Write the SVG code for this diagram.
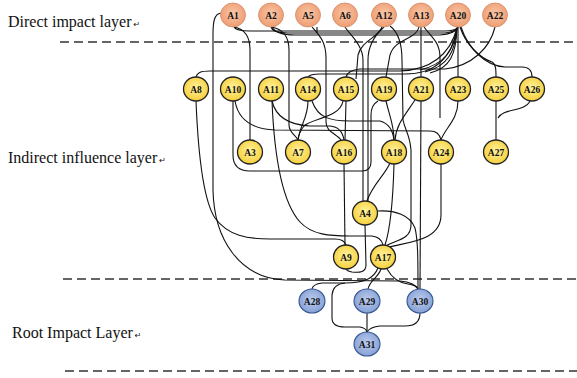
<svg xmlns="http://www.w3.org/2000/svg" width="577" height="378" viewBox="0 0 577 378">
<defs>
<radialGradient id="gO" cx="50%" cy="45%" r="55%"><stop offset="0" stop-color="#FAC7A8"/><stop offset="1" stop-color="#EE9D72"/></radialGradient>
<radialGradient id="gY" cx="50%" cy="45%" r="55%"><stop offset="0" stop-color="#FFF3A0"/><stop offset="1" stop-color="#F6CF3A"/></radialGradient>
<radialGradient id="gB" cx="50%" cy="45%" r="55%"><stop offset="0" stop-color="#BCCBEB"/><stop offset="1" stop-color="#86A1D6"/></radialGradient>
</defs>
<style>
.lbl{font-family:"Liberation Serif",serif;font-size:16px;fill:#111}
.arr{font-family:"DejaVu Sans",sans-serif;font-size:8px;fill:#111}
.dash{stroke:#333;stroke-width:1.6;stroke-dasharray:9 5;fill:none}
.e{fill:none;stroke:#111;stroke-width:1.1}
.o ellipse{fill:url(#gO);stroke:#D08A68;stroke-width:0.8}
.y ellipse{fill:url(#gY);stroke:#222;stroke-width:1.3}
.b ellipse{fill:url(#gB);stroke:#34548F;stroke-width:1.1}
.n text{font-family:"Liberation Serif",serif;font-weight:bold;font-size:9.5px;fill:#111;text-anchor:middle}
</style>
<rect width="577" height="378" fill="#fff"/>
<text class="lbl" x="8" y="27">Direct impact layer<tspan class="arr" dx="2">↵</tspan></text>
<text class="lbl" x="8" y="163">Indirect influence layer<tspan class="arr" dx="2">↵</tspan></text>
<text class="lbl" x="12" y="338">Root Impact Layer<tspan class="arr" dx="2">↵</tspan></text>
<line class="dash" x1="60" y1="42" x2="577" y2="42"/>
<line class="dash" x1="63" y1="279" x2="577" y2="279"/>
<line class="dash" x1="65" y1="371" x2="577" y2="371"/>
<g id="connectors">
<path class="e" d="M234,27 Q236,31 250,31 L445,31 Q455,31 458,27"/>
<path class="e" d="M271,27 Q273,33 288,33 L445,33 Q455,32 458,27"/>
<path class="e" d="M272,27 Q276,35 295,35 L440,35 Q455,34 458,27"/>
<path class="e" d="M317,27 L317,33"/>
<path class="e" d="M234,27 C245,29 250,36 250,50 L250,140"/>
<path class="e" d="M271,27 C283,29 289,36 289,50 L289,125 C289,133 296,135 298,140"/>
<path class="e" d="M221,13 C214,14 213,22 213,35 L213,190 C214,240 240,278 285,280 L400,281 C410,282 416,285 418,289"/>
<path class="e" d="M196,101 C198,150 203,200 215,218 C228,236 248,239 270,239 L335,239 Q344,239 346,245"/>
<path class="e" d="M272,101 C274,150 280,200 300,222 C312,235 330,236 350,236 L372,236 Q381,237 383,245"/>
<path class="e" d="M233,101 L233,155 Q233,171 250,171 L362,171 Q371,171 371,162 L371,115 Q371,105 378,101"/>
<path class="e" d="M235,101 C238,118 250,129 275,130 L430,131 C437,131 440,135 441,140"/>
<path class="e" d="M272,101 C276,118 290,125 310,126 L330,126 Q342,127 344,140"/>
<path class="e" d="M308,101 C308,118 300,125 298,140"/>
<path class="e" d="M343,101 C340,118 312,118 304,126 Q299,132 298,140"/>
<path class="e" d="M346,101 L345,140"/>
<path class="e" d="M312,101 C318,118 330,121 350,121 L380,121 Q392,124 394,140"/>
<path class="e" d="M386,101 C390,118 394,125 394,140"/>
<path class="e" d="M415,100 C405,115 396,125 395,140"/>
<path class="e" d="M458,101 C458,120 445,128 441,140"/>
<path class="e" d="M496,101 L496,140"/>
<path class="e" d="M530,101 C525,112 503,108 498,118"/>
<path class="e" d="M421,101 L420,289"/>
<path class="e" d="M345,27 C350,35 363,45 363,60 L363,201"/>
<path class="e" d="M384,27 C375,35 368,45 368,60 L368,201"/>
<path class="e" d="M390,26 C398,32 402,42 402,60 L403,120 C405,130 410,135 411,150 L411,225 C411,240 395,240 386,246"/>
<path class="e" d="M424,27 C432,38 440,42 440,58 L440,118"/>
<path class="e" d="M421,27 L421,77"/>
<path class="e" d="M382,27 C378,38 362,40 358,55 L356,79"/>
<path class="e" d="M419,27 C416,40 395,38 390,55 L386,77"/>
<path class="e" d="M312,27 C320,36 326,42 326,58 L326,122 C326,132 337,134 341,140"/>
<path class="e" d="M457,28 C450,55 430,70 400,71 L210,71 C200,71 197,73 196,77"/>
<path class="e" d="M457,28 C452,58 435,74 405,74 L320,74 Q310,74 308,77"/>
<path class="e" d="M457,28 C454,50 445,64 420,70"/>
<path class="e" d="M457,28 C455,52 448,66 425,72"/>
<path class="e" d="M457,28 C456,55 450,68 430,73"/>
<path class="e" d="M495,27 C490,48 472,66 445,69 L360,69 Q348,70 346,77"/>
<path class="e" d="M458,27 L458,77"/>
<path class="e" d="M460,27 C466,45 480,58 492,62 C496,64 496,70 496,77"/>
<path class="e" d="M461,27 C468,48 485,66 505,67 L522,67 C530,67 532,72 532,77"/>
<path class="e" d="M344,164 L345,245"/>
<path class="e" d="M394,164 C393,200 390,230 385,245"/>
<path class="e" d="M390,163 C385,175 372,185 367,201"/>
<path class="e" d="M441,164 L441,215 C441,240 410,242 389,247"/>
<path class="e" d="M365,225 L366,265 C366,272 360,273 352,272 Q347,271 346,269"/>
<path class="e" d="M378,211 C395,210 410,215 415,228 C418,240 418,260 418,289"/>
<path class="e" d="M378,268 C374,278 365,283 345,283 L322,283 Q313,284 312,289"/>
<path class="e" d="M381,269 C378,278 370,280 368,289"/>
<path class="e" d="M387,269 C392,278 400,283 408,284 Q416,285 418,289"/>
<path class="e" d="M345,283 Q333,284 332,295 L332,318 Q332,327 345,327 L360,327 Q366,328 367,332"/>
<path class="e" d="M367,313 L367,332"/>
<path class="e" d="M420,313 C420,322 414,326 405,326 L380,326 Q370,327 367,332"/>
</g>
<g id="A1" class="n o"><ellipse cx="233" cy="15" rx="12.5" ry="12"/><text x="233" y="18.5">A1</text></g>
<g id="A2" class="n o"><ellipse cx="271" cy="15" rx="12.5" ry="12"/><text x="271" y="18.5">A2</text></g>
<g id="A5" class="n o"><ellipse cx="308" cy="15" rx="12.5" ry="12"/><text x="308" y="18.5">A5</text></g>
<g id="A6" class="n o"><ellipse cx="345" cy="15" rx="12.5" ry="12"/><text x="345" y="18.5">A6</text></g>
<g id="A12" class="n o"><ellipse cx="384" cy="15" rx="12.5" ry="12"/><text x="384" y="18.5">A12</text></g>
<g id="A13" class="n o"><ellipse cx="421" cy="15" rx="12.5" ry="12"/><text x="421" y="18.5">A13</text></g>
<g id="A20" class="n o"><ellipse cx="458" cy="15" rx="12.5" ry="12"/><text x="458" y="18.5">A20</text></g>
<g id="A22" class="n o"><ellipse cx="495" cy="15" rx="12.5" ry="12"/><text x="495" y="18.5">A22</text></g>
<g id="A8" class="n y"><ellipse cx="196" cy="89" rx="12.5" ry="12"/><text x="196" y="92.5">A8</text></g>
<g id="A10" class="n y"><ellipse cx="233" cy="89" rx="12.5" ry="12"/><text x="233" y="92.5">A10</text></g>
<g id="A11" class="n y"><ellipse cx="271" cy="89" rx="12.5" ry="12"/><text x="271" y="92.5">A11</text></g>
<g id="A14" class="n y"><ellipse cx="308" cy="89" rx="12.5" ry="12"/><text x="308" y="92.5">A14</text></g>
<g id="A15" class="n y"><ellipse cx="346" cy="89" rx="12.5" ry="12"/><text x="346" y="92.5">A15</text></g>
<g id="A19" class="n y"><ellipse cx="384" cy="89" rx="12.5" ry="12"/><text x="384" y="92.5">A19</text></g>
<g id="A21" class="n y"><ellipse cx="421" cy="89" rx="12.5" ry="12"/><text x="421" y="92.5">A21</text></g>
<g id="A23" class="n y"><ellipse cx="458" cy="89" rx="12.5" ry="12"/><text x="458" y="92.5">A23</text></g>
<g id="A25" class="n y"><ellipse cx="496" cy="89" rx="12.5" ry="12"/><text x="496" y="92.5">A25</text></g>
<g id="A26" class="n y"><ellipse cx="532" cy="89" rx="12.5" ry="12"/><text x="532" y="92.5">A26</text></g>
<g id="A3" class="n y"><ellipse cx="250" cy="152" rx="12.5" ry="12"/><text x="250" y="155.5">A3</text></g>
<g id="A7" class="n y"><ellipse cx="298" cy="152" rx="12.5" ry="12"/><text x="298" y="155.5">A7</text></g>
<g id="A16" class="n y"><ellipse cx="344" cy="152" rx="12.5" ry="12"/><text x="344" y="155.5">A16</text></g>
<g id="A18" class="n y"><ellipse cx="394" cy="152" rx="12.5" ry="12"/><text x="394" y="155.5">A18</text></g>
<g id="A24" class="n y"><ellipse cx="441" cy="152" rx="12.5" ry="12"/><text x="441" y="155.5">A24</text></g>
<g id="A27" class="n y"><ellipse cx="496" cy="152" rx="12.5" ry="12"/><text x="496" y="155.5">A27</text></g>
<g id="A4" class="n y"><ellipse cx="365" cy="213" rx="12.5" ry="12"/><text x="365" y="216.5">A4</text></g>
<g id="A9" class="n y"><ellipse cx="346" cy="257" rx="12.5" ry="12"/><text x="346" y="260.5">A9</text></g>
<g id="A17" class="n y"><ellipse cx="383" cy="257" rx="12.5" ry="12"/><text x="383" y="260.5">A17</text></g>
<g id="A28" class="n b"><ellipse cx="312" cy="301" rx="13" ry="12"/><text x="312" y="304.5">A28</text></g>
<g id="A29" class="n b"><ellipse cx="367" cy="301" rx="13" ry="12"/><text x="367" y="304.5">A29</text></g>
<g id="A30" class="n b"><ellipse cx="420" cy="301" rx="13" ry="12"/><text x="420" y="304.5">A30</text></g>
<g id="A31" class="n b"><ellipse cx="367" cy="344" rx="13" ry="12"/><text x="367" y="347.5">A31</text></g>
</svg>
